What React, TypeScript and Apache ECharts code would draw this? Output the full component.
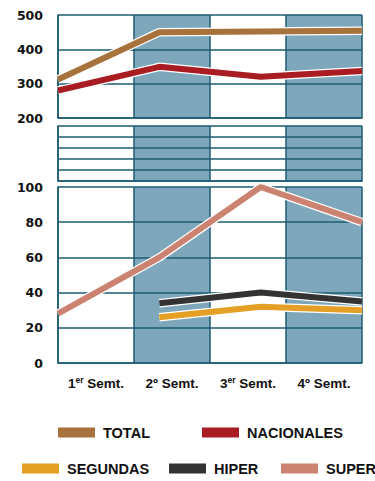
import React, { useEffect, useRef } from "react";
import * as echarts from "echarts";

// Half-year periods along the bottom axis
const categories = ["1er Semt.", "2º Semt.", "3er Semt.", "4º Semt."];

// Upper panel (200–500)
const total = [312, 450, 452, 454];
const nacionales = [280, 349, 320, 337];

// Lower panel (0–100)
const segundas = [null, 26, 32, 30];
const hiper = [null, 34, 40, 35];
const superData = [28, 60, 100, 80];

const topTicks = { min: 200, max: 500, interval: 100 };
const bottomTicks = { min: 0, max: 100, interval: 20 };
const breakTicks = { min: 0, max: 5, interval: 1 };

const COLORS = {
  TOTAL: "#a8723c",
  NACIONALES: "#a81c22",
  SEGUNDAS: "#e3a025",
  HIPER: "#333333",
  SUPER: "#cc8270",
};

const TEAL = "#1c5c70";
const SHADE = "#7fa7bb";
const SANS = "'Liberation Sans', Arial, Helvetica, sans-serif";

const GRID_LEFT = 58;
const GRID_WIDTH = 304;

// "1er Semt." -> number, raised suffix, rest
function periodLabel(v: string) {
  const m = v.match(/^(\d+)(\S+) (.*)$/);
  if (!m) return v;
  // the ordinal sign º is already a raised glyph, so it keeps the normal size
  const suffix = m[2] === "º" ? `{n|º}` : `{s|${m[2]}}`;
  return `{n|${m[1]}}${suffix}{n| ${m[3]}}`;
}

function bandAxis(gridIndex: number, withLabels: boolean) {
  return {
    type: "category",
    gridIndex,
    data: categories,
    boundaryGap: true,
    axisLine: { show: true, lineStyle: { color: TEAL, width: 1.5 } },
    axisTick: { show: false },
    splitLine: { show: true, interval: 0, lineStyle: { color: TEAL, width: 1.5 } },
    splitArea: { show: true, interval: 0, areaStyle: { color: ["#ffffff", SHADE] } },
    axisLabel: withLabels
      ? {
          show: true,
          interval: 0,
          margin: 12,
          color: "#111",
          formatter: periodLabel,
          rich: {
            n: { fontSize: 13.5, fontWeight: "bold", fontFamily: SANS, color: "#111", lineHeight: 16 },
            s: { fontSize: 8.5, fontWeight: "bold", fontFamily: SANS, color: "#111", verticalAlign: "top", lineHeight: 9 },
          },
        }
      : { show: false, interval: 0 },
    z: 1,
  };
}

function pointAxis(gridIndex: number) {
  return {
    type: "category",
    gridIndex,
    data: categories,
    boundaryGap: false,
    show: false,
  };
}

function valueAxis(gridIndex: number, ticks: { min: number; max: number; interval: number }, withLabels: boolean) {
  return {
    type: "value",
    gridIndex,
    min: ticks.min,
    max: ticks.max,
    interval: ticks.interval,
    axisLine: { show: true, lineStyle: { color: TEAL, width: 1.5 } },
    axisTick: { show: false },
    splitLine: { show: true, lineStyle: { color: TEAL, width: 1.5 } },
    axisLabel: withLabels
      ? {
          show: true,
          margin: 15,
          color: "#111",
          fontSize: 12.5,
          fontWeight: "bold",
          fontFamily: "'DejaVu Sans', sans-serif",
        }
      : { show: false },
    z: 2,
  };
}

function lineSeries(name: string, data: (number | null)[], xAxisIndex: number, yAxisIndex: number) {
  const color = (COLORS as any)[name];
  return [
    {
      name: name + "-halo",
      type: "line",
      xAxisIndex,
      yAxisIndex,
      data,
      symbol: "none",
      silent: true,
      lineStyle: { color: "#ffffff", width: 8.5 },
      itemStyle: { color: "#ffffff" },
      z: 3,
    },
    {
      name,
      type: "line",
      xAxisIndex,
      yAxisIndex,
      data,
      symbol: "none",
      lineStyle: { color, width: 6 },
      itemStyle: { color },
      z: 4,
    },
  ];
}

function legendAt(name: string, left: number, top: number) {
  return {
    data: [name],
    left,
    top,
    padding: 0,
    icon: "rect",
    itemWidth: 37,
    itemHeight: 10,
    selectedMode: false,
    textStyle: {
      fontSize: 14.5,
      fontWeight: "bold",
      fontFamily: SANS,
      color: "#111",
      padding: [0, 0, 0, 3],
    },
  };
}

export default function App() {
  const ref = useRef<HTMLDivElement>(null);

  useEffect(() => {
    if (!ref.current) return;
    const chart = echarts.init(ref.current, null, { renderer: "svg" });
    chart.setOption({
      animation: false,
      backgroundColor: "#ffffff",
      grid: [
        { left: GRID_LEFT, top: 15, width: GRID_WIDTH, height: 103 },
        { left: GRID_LEFT, top: 126, width: GRID_WIDTH, height: 55 },
        { left: GRID_LEFT, top: 187, width: GRID_WIDTH, height: 176 },
      ],
      xAxis: [
        bandAxis(0, false),
        pointAxis(0),
        bandAxis(1, false),
        bandAxis(2, true),
        pointAxis(2),
      ],
      yAxis: [
        valueAxis(0, topTicks, true),
        valueAxis(1, breakTicks, false),
        valueAxis(2, bottomTicks, true),
      ],
      legend: [
        legendAt("TOTAL", 58, 425),
        legendAt("NACIONALES", 202, 425),
        legendAt("SEGUNDAS", 22, 461),
        legendAt("HIPER", 169, 461),
        legendAt("SUPER", 281, 461),
      ],
      series: [
        ...lineSeries("TOTAL", total, 1, 0),
        ...lineSeries("NACIONALES", nacionales, 1, 0),
        ...lineSeries("SUPER", superData, 4, 2),
        ...lineSeries("SEGUNDAS", segundas, 4, 2),
        ...lineSeries("HIPER", hiper, 4, 2),
      ],
    });
    return () => chart.dispose();
  }, []);

  return <div ref={ref} style={{ width: 375, height: 481, position: "absolute", left: 0, top: 0 }} />;
}
